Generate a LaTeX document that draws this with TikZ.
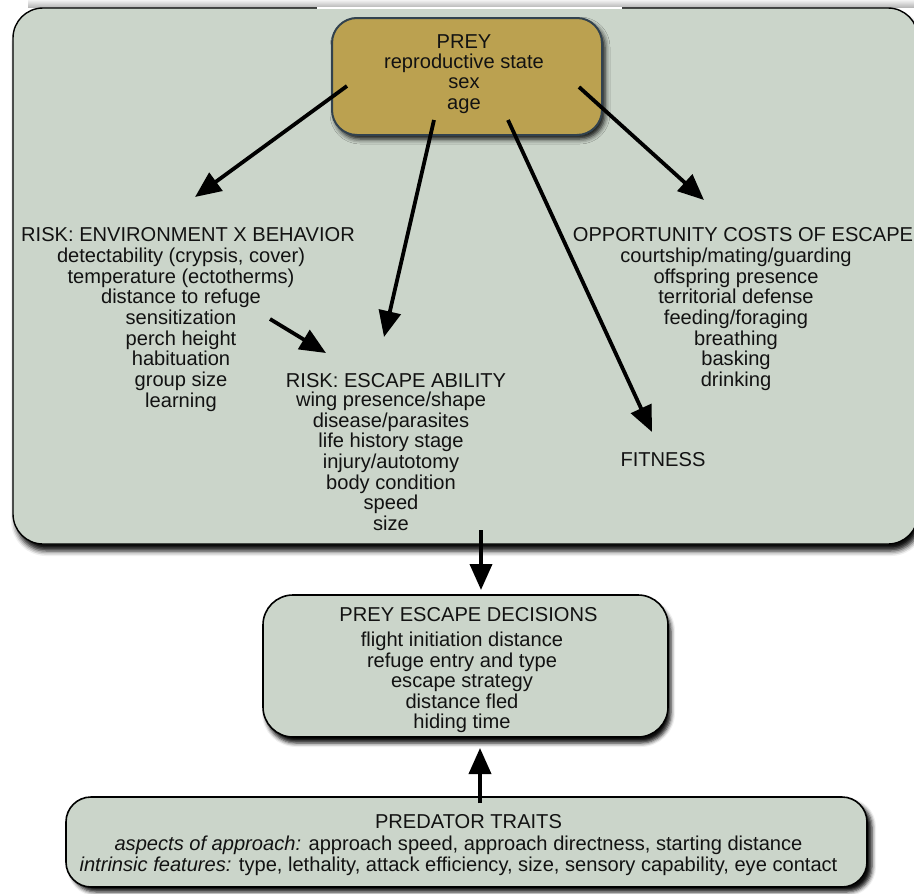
\documentclass[tikz,border=0pt]{standalone}
\usepackage{fontspec}
\setmainfont{Liberation Sans}
\usetikzlibrary{arrows.meta,shadows.blur}

\definecolor{panel}{RGB}{203,213,202}
\definecolor{preyfill}{RGB}{187,161,80}
\definecolor{preyedge}{RGB}{50,66,78}
\definecolor{ink}{RGB}{18,18,18}

% centred stack of lines whose baseline is the baseline of the first line
\newcommand{\linestack}[1]{\begin{tabular}[t]{@{}c@{}}#1\end{tabular}}

\begin{document}
\begin{tikzpicture}[x=1pt, y=-1pt,
  every node/.style={inner sep=0pt, outer sep=0pt},
  txt/.style={anchor=base, text=ink, font=\fontsize{20.1}{20.3}\selectfont},
  panelbox/.style={draw=black, line width=1.4pt, fill=panel, rounded corners=30pt,
    blur shadow={shadow xshift=3pt, shadow yshift=-7pt, shadow blur radius=5pt, shadow opacity=95}},
  preybox/.style={draw=preyedge, line width=2pt, fill=preyfill, rounded corners=25pt,
    blur shadow={shadow xshift=3pt, shadow yshift=-4pt, shadow blur radius=5pt, shadow opacity=95}},
  decbox/.style={draw=black, line width=1.6pt, fill=panel, rounded corners=30pt,
    blur shadow={shadow xshift=3pt, shadow yshift=-6pt, shadow blur radius=4pt, shadow opacity=95}},
  predbox/.style={draw=black, line width=1.6pt, fill=panel, rounded corners=25pt,
    blur shadow={shadow xshift=5pt, shadow yshift=-5pt, shadow blur radius=4pt, shadow opacity=95}},
  flow/.style={draw=black, line width=3.8pt, -{Triangle[length=26pt,width=22pt]}}]

\useasboundingbox (0,0) rectangle (914,894);

% faint band along the top edge
\shade[top color=gray!10, bottom color=gray!55] (28,0) rectangle (914,7);

% boxes
\node[panelbox, minimum width=905pt, minimum height=536pt] (panel) at (465.5,276) {};
\draw[white, line width=1.4pt] (317,8) -- (622,8);
\node[preybox, minimum width=270pt, minimum height=117pt] (prey) at (467,76.5) {};
\node[decbox, minimum width=405pt, minimum height=142pt] (decide) at (465.5,666) {};
\node[predbox, minimum width=801pt, minimum height=90pt] (pred) at (466.5,842) {};

% texts
\node[txt] (preytxt) at (464,48) {\linestack{PREY\\reproductive state\\sex\\age}};

\node[txt] (envhead) at (188,241) {RISK: ENVIRONMENT X BEHAVIOR};
\node[txt] (envbody) at (181,262.5) {\linestack{detectability (crypsis, cover)\\temperature (ectotherms)\\distance to refuge\\sensitization\\perch height\\habituation\\group size\\learning}};

\node[txt] (abilhead) at (396,387) {RISK: ESCAPE ABILITY};
\node[txt] (abilbody) at (391,406.5) {\linestack{wing presence/shape\\disease/parasites\\life history stage\\injury/autotomy\\body condition\\speed\\size}};

\node[txt] (costhead) at (743,241) {OPPORTUNITY COSTS OF ESCAPE};
\node[txt] (costbody) at (736,262.5) {\linestack{courtship/mating/guarding\\offspring presence\\territorial defense\\feeding/foraging\\breathing\\basking\\drinking}};

\node[txt] (fitness) at (663,466) {FITNESS};

\node[txt] (dechead) at (468.5,621.5) {PREY ESCAPE DECISIONS};
\node[txt] (decbody) at (462,646.7) {\linestack{flight initiation distance\\refuge entry and type\\escape strategy\\distance fled\\hiding time}};

\node[txt] (predhead) at (468.5,828.5) {PREDATOR TRAITS};
\node[txt] (predbody) at (458.5,850) {\linestack{\textit{aspects of approach:} approach speed, approach directness, starting distance\\[0.7pt]
  \textit{intrinsic features:} type, lethality, attack efficiency, size, sensory capability, eye contact}};

% connector ends
\coordinate (a1s) at (347,86);   \coordinate (a1e) at (195,197);
\coordinate (a2s) at (434,120);  \coordinate (a2e) at (384,337);
\coordinate (a3s) at (508,120);  \coordinate (a3e) at (652,432);
\coordinate (a4s) at (579,87);   \coordinate (a4e) at (704,200);
\coordinate (a5s) at (270,319);  \coordinate (a5e) at (326,353);
\coordinate (a6s) at (481,530);  \coordinate (a6e) at (481,590);
\coordinate (a7s) at (480,803);  \coordinate (a7e) at (480,748);

% connectors
\draw[flow] (a1s) -- (a1e);
\draw[flow] (a2s) -- (a2e);
\draw[flow] (a3s) -- (a3e);
\draw[flow] (a4s) -- (a4e);
\draw[flow] (a5s) -- (a5e);
\draw[flow] (a6s) -- (a6e);
\draw[flow] (a7s) -- (a7e);
\end{tikzpicture}
\end{document}
